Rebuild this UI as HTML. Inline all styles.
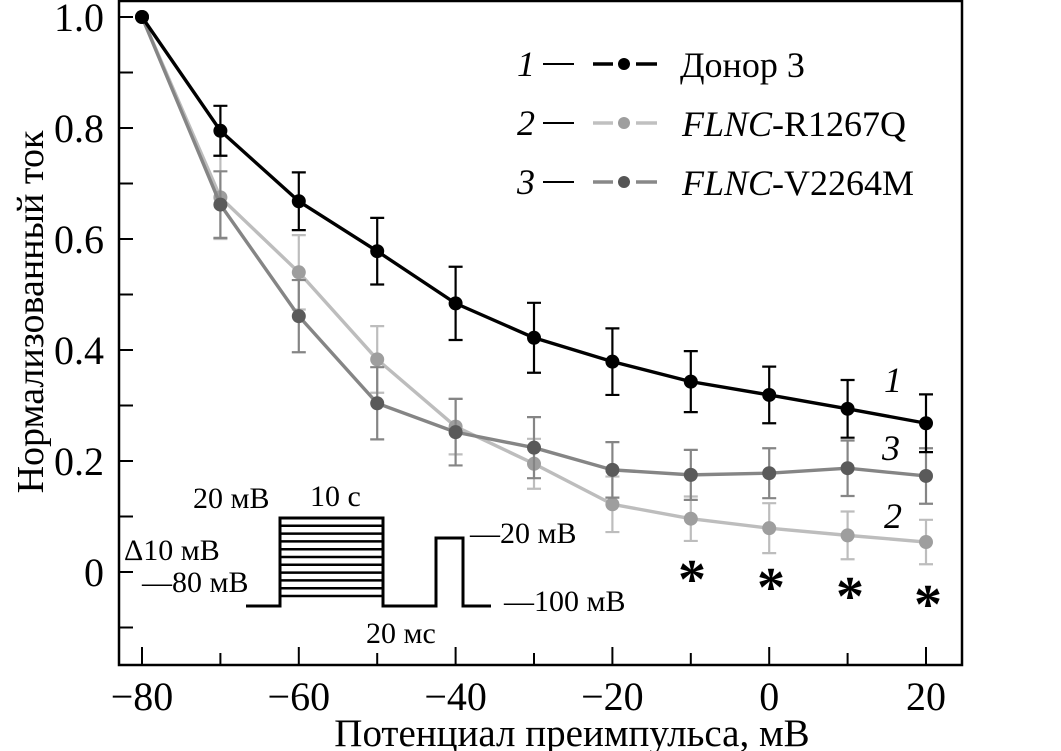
<!DOCTYPE html>
<html><head><meta charset="utf-8"><style>
html,body{margin:0;padding:0;background:#fff;}
svg{display:block;font-family:"Liberation Serif",serif;}
</style></head><body>
<svg id="chart" width="1061" height="751" viewBox="0 0 1061 751" xmlns="http://www.w3.org/2000/svg">
<g id="axes"></g>
<g id="series"></g>
<g id="legend">
  <text x="517" y="76" font-size="36" font-style="italic">1</text>
  <line x1="543" y1="64" x2="574" y2="64" stroke="#000" stroke-width="2"/>
  <path d="M593,64H613M636,64H657" stroke="#000" stroke-width="3.5"/>
  <circle cx="624" cy="64" r="6" fill="#000"/>
  <text x="680" y="77" font-size="36">Донор 3</text>
  <text x="517" y="135" font-size="36" font-style="italic">2</text>
  <line x1="543" y1="123" x2="574" y2="123" stroke="#000" stroke-width="2"/>
  <path d="M593,123H613M636,123H657" stroke="#c0c0c0" stroke-width="3.5"/>
  <circle cx="624" cy="123" r="6" fill="#9e9e9e"/>
  <text x="682" y="136" font-size="36"><tspan font-style="italic">FLNC</tspan>-R1267Q</text>
  <text x="517" y="194" font-size="36" font-style="italic">3</text>
  <line x1="543" y1="182" x2="574" y2="182" stroke="#000" stroke-width="2"/>
  <path d="M593,182H613M636,182H657" stroke="#888" stroke-width="3.5"/>
  <circle cx="624" cy="182" r="6" fill="#555"/>
  <text x="682" y="195" font-size="36"><tspan font-style="italic">FLNC</tspan>-V2264M</text>
</g>
<g id="curve-labels" font-size="36" font-style="italic">
  <text x="884" y="392">1</text>
  <text x="882" y="460">3</text>
  <text x="884" y="528">2</text>
</g>
<g id="asterisks" font-size="56" font-weight="bold" text-anchor="middle">
  <text x="692" y="598">*</text>
  <text x="771" y="606">*</text>
  <text x="850" y="615">*</text>
  <text x="928" y="623">*</text>
</g>
<g id="protocol-inset" font-size="30">
  <g id="inset-lines" stroke="#000" stroke-width="2.5" fill="none"></g>
  <path d="M246,606 H280 V518 H383 V606 H436 V538 H463 V606 H491" stroke="#000" stroke-width="3" fill="none"/>
  <text x="193" y="508">20 мВ</text>
  <text x="310" y="506">10 с</text>
  <text x="124" y="560">Δ10 мВ</text>
  <text x="142" y="592">—80 мВ</text>
  <text x="366" y="643">20 мс</text>
  <text x="470" y="543">—20 мВ</text>
  <text x="504" y="611">—100 мВ</text>
</g>
<text x="572" y="746" font-size="39" text-anchor="middle">Потенциал преимпульса, мВ</text>
<text transform="translate(43,312) rotate(-90)" font-size="38" text-anchor="middle">Нормализованный ток</text>
</svg>
<script>
const xCats = [-80,-70,-60,-50,-40,-30,-20,-10,0,10,20];
const donorVals = [1.0,0.795,0.668,0.578,0.484,0.422,0.379,0.343,0.319,0.294,0.268];
const donorErr = [0,0.045,0.052,0.06,0.066,0.063,0.06,0.055,0.051,0.052,0.052];
const r1267Vals = [1.0,0.675,0.54,0.383,0.262,0.195,0.122,0.096,0.079,0.066,0.054];
const r1267Err = [0,0.075,0.067,0.06,0.05,0.045,0.05,0.04,0.045,0.043,0.04];
const v2264Vals = [1.0,0.662,0.461,0.304,0.252,0.224,0.184,0.175,0.178,0.187,0.173];
const v2264Err = [0,0.06,0.065,0.065,0.06,0.055,0.05,0.045,0.045,0.05,0.05];
const xTicks = [-80,-60,-40,-20,0,20];
const xTickLabels = ["\u221280","\u221260","\u221240","\u221220","0","20"];
const yTicks = [0,0.2,0.4,0.6,0.8,1.0];
const yTickLabels = ["0","0.2","0.4","0.6","0.8","1.0"];
const insetLevels = [0,1,2,3,4,5,6,7,8,9,10];

const NS="http://www.w3.org/2000/svg";
const L=119,R=962,T=1,B=665;
function xs(v){return 142+(v+80)*7.84;}
function ys(v){return 572-v*555;}
function mk(tag,attrs,parent){const e=document.createElementNS(NS,tag);for(const k in attrs)e.setAttribute(k,attrs[k]);parent.appendChild(e);return e;}

const axes=document.getElementById('axes');
let fr=mk('rect',{x:L,y:T,width:R-L,height:B-T,fill:'none',stroke:'#000','stroke-width':2.5},axes);


for(let v=-80;v<=20;v+=10){
  const major=xTicks.indexOf(v)>=0;
  const t=mk('line',{x1:xs(v),x2:xs(v),y1:B,y2:B-(major?18:12),stroke:'#000','stroke-width':2},axes);
  
  
}
xTicks.forEach((v,i)=>{
  const t=mk('text',{x:xs(v),y:710,'font-size':40,'text-anchor':'middle'},axes);
  t.textContent=xTickLabels[i];
  
  
});
for(let k=-1;k<=10;k++){
  const v=k/10;
  const t=mk('line',{x1:L,x2:L+14,y1:ys(v),y2:ys(v),stroke:'#000','stroke-width':2},axes);
  
  
}
yTicks.forEach((v,i)=>{
  const t=mk('text',{x:104,y:ys(v)+14,'font-size':40,'text-anchor':'end'},axes);
  t.textContent=yTickLabels[i];
  
  
});

const ser=document.getElementById('series');
function drawSeries(vals,errs,lineCol,dotCol,name){
  const g=mk('g',{},ser);
  
  
  vals.forEach((v,i)=>{
    if(!errs[i])return;
    const x=xs(xCats[i]),y1=ys(v+errs[i]),y2=ys(v-errs[i]);
    const e=mk('path',{d:`M${x},${y1}V${y2}M${x-7},${y1}H${x+7}M${x-7},${y2}H${x+7}`,stroke:lineCol,'stroke-width':2.2,fill:'none'},g);
    
    
  });
  const pts=vals.map((v,i)=>xs(xCats[i])+','+ys(v)).join(' ');
  const pl=mk('polyline',{points:pts,fill:'none',stroke:lineCol,'stroke-width':3.4,'stroke-linejoin':'round'},g);
  
  
  vals.forEach((v,i)=>{
    const c=mk('circle',{cx:xs(xCats[i]),cy:ys(v),r:7,fill:dotCol},g);
    
    
  });
}
drawSeries(r1267Vals,r1267Err,'#bdbdbd','#9e9e9e','series-r1267q');
drawSeries(v2264Vals,v2264Err,'#858585','#5a5a5a','series-v2264m');
drawSeries(donorVals,donorErr,'#000','#000','series-donor3');

const il=document.getElementById('inset-lines');
insetLevels.forEach(k=>{
  const y=518+k*7.8;
  const ln=mk('line',{x1:280,x2:383,y1:y,y2:y},il);
  
  
});
</script>
</body></html>
